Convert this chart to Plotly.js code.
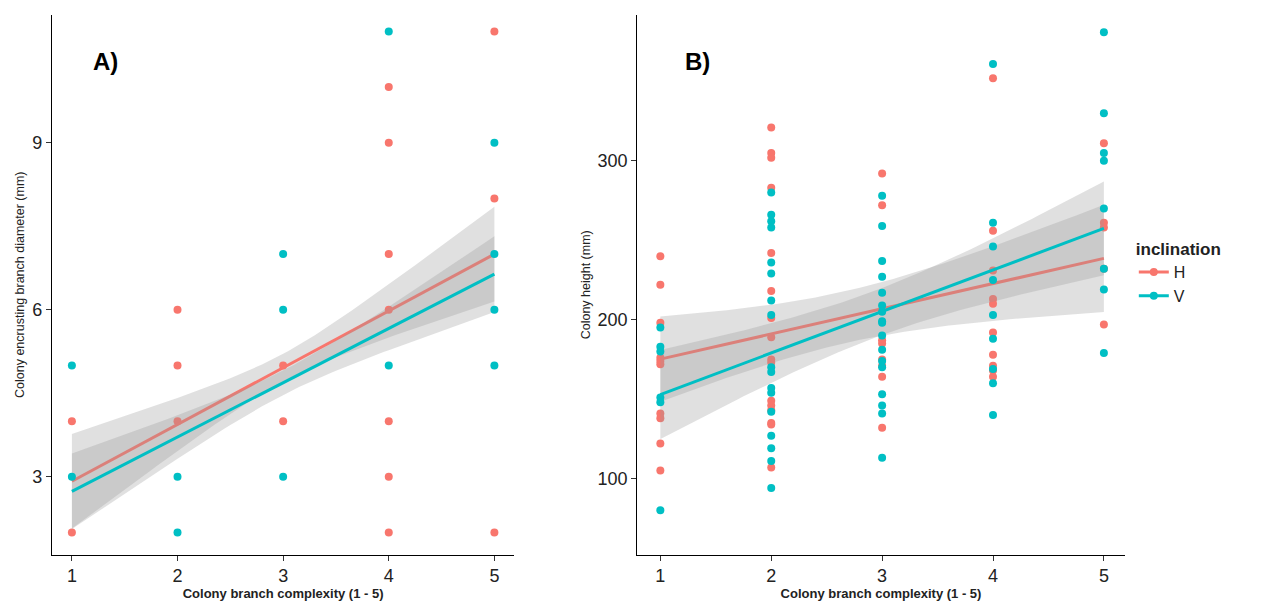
<!DOCTYPE html>
<html>
<head>
<script src="https://cdn.plot.ly/plotly-3.0.1.min.js"></script>
<style>body{margin:0;background:#fff}#graph{width:1264px;height:613px}</style>
</head>
<body>
<div id="graph"></div>
<script>
// Panel A: branch diameter (mm) by complexity (overlapping points hide repeats)
let aHx = [1,1, 2,2,2, 3,3, 4,4,4,4,4,4,4, 5,5,5];
let aHy = [4,2, 6,5,4, 5,4, 10,9,7,6,4,3,2, 11,8,2];
let aVx = [1,1, 2,2, 3,3,3, 4,4, 5,5,5,5];
let aVy = [5,3, 3,2, 7,6,3, 11,5, 9,7,6,5];
// Panel A fitted lines: value at x=1 and x=5,
// confidence half-width at x=3 and at the ends
let aFitH = [2.92, 7.0], aHalfH = [0.25, 0.85];
let aFitV = [2.74, 6.64], aHalfV = [0.22, 0.68];

// Panel B: colony height (mm) by complexity
let bHx = [1,1,1,1,1,1,1,1,1,1,
    2,2,2,2,2,2,2,2,2,2,2,2,2,2,2,2,
    3,3,3,3,3,3,3,3,
    4,4,4,4,4,4,4,4,4,4,
    5,5,5,5,5];
let bHy = [240,222,198,176,174,172,141,138,122,105,
    321,305,302,283,242,218,201,189,175,173,149,146,143,135,134,107,
    292,272,187,185,175,171,164,132,
    352,256,231,213,210,192,178,171,168,164,
    311,261,258,232,197];
let bVx = [1,1,1,1,1,1,
    2,2,2,2,2,2,2,2,2,2,2,2,2,2,2,2,2,
    3,3,3,3,3,3,3,3,3,3,3,3,3,3,3,3,3,
    4,4,4,4,4,4,4,4,4,
    5,5,5,5,5,5,5,5];
let bVy = [195,183,180,151,148,80,
    280,266,262,258,236,229,212,203,170,167,157,154,142,127,119,111,94,
    278,259,237,227,217,209,205,199,198,190,181,174,170,153,146,141,113,
    361,261,246,225,203,188,169,160,140,
    381,330,305,300,270,232,219,179];

const red = "#F8766D", teal = "#00BFC4";
const gridX = [];
for(let x=1;x<=5.0001;x+=0.05) gridX.push(x);

// linear fit with 95% confidence band, like geom_smooth(method = "lm")
function fit(xs, ys){
    let n = xs.length;
    let mx = xs.reduce((a,b)=>a+b,0)/n, my = ys.reduce((a,b)=>a+b,0)/n;
    let sxx = 0, sxy = 0;
    for(let i=0;i<n;i++){ sxx += (xs[i]-mx)**2; sxy += (xs[i]-mx)*(ys[i]-my); }
    let b = sxy/sxx, a = my - b*mx;
    let rss = 0;
    for(let i=0;i<n;i++) rss += (ys[i]-a-b*xs[i])**2;
    let s = Math.sqrt(rss/(n-2));
    let t = 1.96 + 2.4/(n-2);
    let gy = [], lo = [], hi = [];
    gridX.forEach(x => {
        let y = a + b*x;
        let se = s*Math.sqrt(1/n + (x-mx)**2/sxx);
        gy.push(y); lo.push(y - t*se); hi.push(y + t*se);
    });
    return {gy, lo, hi};
}

// band from values
function readFit(ends, half){
    let d = Math.sqrt(half[1]**2 - half[0]**2)/2;
    let gy = [], lo = [], hi = [];
    gridX.forEach(x => {
        let y = ends[0] + (ends[1]-ends[0])*(x-1)/4;
        let h = Math.sqrt(half[0]**2 + d*d*(x-3)**2);
        gy.push(y); lo.push(y-h); hi.push(y+h);
    });
    return {gy, lo, hi};
}

function layers(xs, ys, f, color, xa, ya, name, legend){
    let out = [
        {x: gridX.concat(gridX.slice().reverse()), y: f.hi.concat(f.lo.slice().reverse()),
         xaxis: xa, yaxis: ya, fill: "toself", fillcolor: "rgba(153,153,153,0.3)",
         line: {width: 0}, mode: "lines", showlegend: false, hoverinfo: "skip"},
        {x: xs, y: ys, xaxis: xa, yaxis: ya, mode: "markers", name: name,
         marker: {color: color, size: 8}, showlegend: false},
        {x: gridX, y: f.gy, xaxis: xa, yaxis: ya, mode: "lines", name: name,
         line: {color: color, width: 3}, showlegend: false}
    ];
    if(legend) out.push({x: [null], y: [null], xaxis: xa, yaxis: ya, mode: "lines+markers", name: name,
         line: {color: color, width: 3}, marker: {color: color, size: 8}});
    return out;
}

let data = [].concat(
    layers(aHx, aHy, readFit(aFitH, aHalfH), red, "x", "y", "H", false),
    layers(aVx, aVy, readFit(aFitV, aHalfV), teal, "x", "y", "V", false),
    layers(bHx, bHy, fit(bHx, bHy), red, "x2", "y2", "H", true),
    layers(bVx, bVy, fit(bVx, bVy), teal, "x2", "y2", "V", true)
);

let axisStyle = {
    showgrid: false, zeroline: false, showline: true, linecolor: "#000", linewidth: 1,
    ticks: "outside", ticklen: 5, tickcolor: "#333",
    tickfont: {size: 18, color: "#222", family: "Arial, Liberation Sans"}
};
let xTitle = {text: "<b>Colony branch complexity (1 - 5)</b>", font: {size: 13, color: "#222"}, standoff: 2};

let layout = {
    width: 1264, height: 613,
    margin: {l: 0, r: 0, t: 0, b: 0},
    paper_bgcolor: "#fff", plot_bgcolor: "#fff",
    font: {family: "Arial, Liberation Sans"},
    xaxis: Object.assign({}, axisStyle, {domain: [0.041, 0.407], range: [0.81, 5.19], tickvals: [1,2,3,4,5],
        title: xTitle, anchor: "y"}),
    yaxis: Object.assign({}, axisStyle, {domain: [0.095, 0.976], range: [1.6, 11.3], tickvals: [3,6,9],
        title: {text: "Colony encrusting branch diameter (mm)", font: {size: 12.5, color: "#222"}, standoff: 4}, anchor: "x"}),
    xaxis2: Object.assign({}, axisStyle, {domain: [0.504, 0.89], range: [0.79, 5.19], tickvals: [1,2,3,4,5],
        title: xTitle, anchor: "y2"}),
    yaxis2: Object.assign({}, axisStyle, {domain: [0.095, 0.976], range: [52, 392], tickvals: [100,200,300],
        title: {text: "Colony height (mm)", font: {size: 12.5, color: "#222"}, standoff: 4}, anchor: "x2"}),
    legend: {x: 0.897, y: 0.62, xanchor: "left", yanchor: "top", bgcolor: "rgba(0,0,0,0)",
        title: {text: "<b>inclination</b>", font: {size: 17, color: "#222"}},
        font: {size: 16, color: "#222"}, tracegroupgap: 0},
    annotations: [
        {text: "<b>A)</b>", x: 0.072, y: 0.925, xref: "paper", yref: "paper", showarrow: false, font: {size: 24, color: "#000"}},
        {text: "<b>B)</b>", x: 0.552, y: 0.925, xref: "paper", yref: "paper", showarrow: false, font: {size: 24, color: "#000"}}
    ]
};

Plotly.newPlot("graph", data, layout, {displayModeBar: false});
</script>
</body>
</html>
